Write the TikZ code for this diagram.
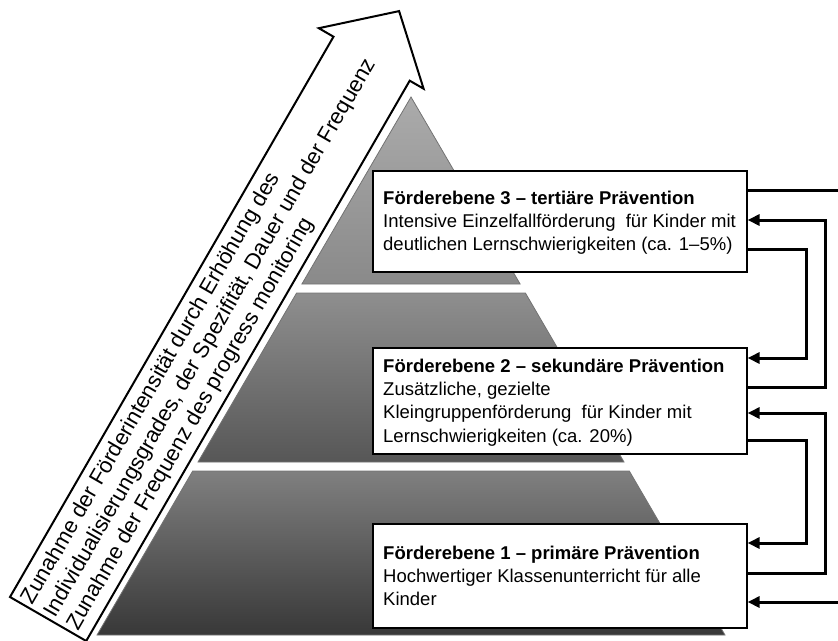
\documentclass[tikz,border=0pt]{standalone}
\usepackage{fontspec}
\setmainfont{Liberation Sans}
\usetikzlibrary{arrows.meta}
\definecolor{laA}{gray}{0.67}
\definecolor{laB}{gray}{0.54}
\definecolor{lbA}{gray}{0.56}
\definecolor{lbB}{gray}{0.34}
\definecolor{lcA}{gray}{0.50}
\definecolor{lcB}{gray}{0.22}
\begin{document}
\begin{tikzpicture}[x=1pt,y=-1pt,
  box/.style={draw=black, line width=1.6pt, fill=white, inner sep=0pt, anchor=north west},
  boxtext/.style={anchor=north west, inner sep=0pt, align=left, font=\fontsize{18.5}{23.3}\selectfont},
  conn/.style={line width=3pt, line join=miter},
  arr/.style={conn, -{Triangle[length=12pt,width=11pt]}},
  layer/.style={draw=black!55, line width=0.8pt}
]
\useasboundingbox (0,0) rectangle (838,640);

% pyramid layers
\shade[layer, top color=laA, bottom color=laB] (411,97) -- (520.1,284) -- (301.9,284) -- cycle;
\shade[layer, top color=lbA, bottom color=lbB] (296.6,293) -- (525.4,293) -- (624,462) -- (198,462) -- cycle;
\shade[layer, top color=lcA, bottom color=lcB] (192.7,471) -- (629.3,471) -- (725,635) -- (97,635) -- cycle;

% big arrow
\draw[line width=2pt, fill=white, line join=miter] (10,597) -- (333.5,36.7) -- (318.8,28.2) -- (399.1,11.1) -- (423.6,88.7) -- (409.7,80.7) -- (86.2,641) -- cycle;
\node[rotate=60, anchor=north west, inner sep=0pt, align=left, font=\fontsize{22}{26}\selectfont] (atext) at (18,597)
  {\rule{0pt}{17pt}Zunahme der Förderintensität durch Erhöhung des\\
   Individualisierungsgrades, der Spezifität, Dauer und der Frequenz\\
   Zunahme der Frequenz des progress monitoring};

% boxes
\node[box, minimum width=374pt, minimum height=101pt] (b3) at (372,170) {};
\node[box, minimum width=374pt, minimum height=106pt] (b2) at (372,347) {};
\node[box, minimum width=374pt, minimum height=104pt] (b1) at (372,523) {};

\node[boxtext] (t3) at (383,188) {\rule{0pt}{16pt}\textbf{Förderebene 3 – tertiäre Prävention}\\
  Intensive Einzelfallförderung\ \ für Kinder mit\\
  deutlichen Lernschwierigkeiten (ca. 1–5\%)};
\node[boxtext] (t2) at (383,356) {\rule{0pt}{16pt}\textbf{Förderebene 2 – sekundäre Prävention}\\
  Zusätzliche, gezielte\\
  Kleingruppenförderung\ \ für Kinder mit\\
  Lernschwierigkeiten (ca. 20\%)};
\node[boxtext] (t1) at (383,543) {\rule{0pt}{16pt}\textbf{Förderebene 1 – primäre Prävention}\\
  Hochwertiger Klassenunterricht für alle\\
  Kinder};

% connectors
\coordinate (exit3) at (838,190);
\coordinate (in1) at (838,602);
\draw[conn] ([yshift=-20pt]b3.north east) -- (exit3);
\draw[arr] ([yshift=-40pt]b2.north east) -| ([xshift=78pt,yshift=-50pt]b3.north east) -- ([yshift=-50pt]b3.north east);
\draw[arr] ([yshift=-79pt]b3.north east) -| ([xshift=59pt,yshift=-11pt]b2.north east) -- ([yshift=-11pt]b2.north east);
\draw[arr] ([yshift=-50pt]b1.north east) -| ([xshift=78pt,yshift=-66pt]b2.north east) -- ([yshift=-66pt]b2.north east);
\draw[arr] ([yshift=-93pt]b2.north east) -| ([xshift=59pt,yshift=-20pt]b1.north east) -- ([yshift=-20pt]b1.north east);
\draw[arr] (in1) -- ([yshift=-79pt]b1.north east);
\end{tikzpicture}
\end{document}
